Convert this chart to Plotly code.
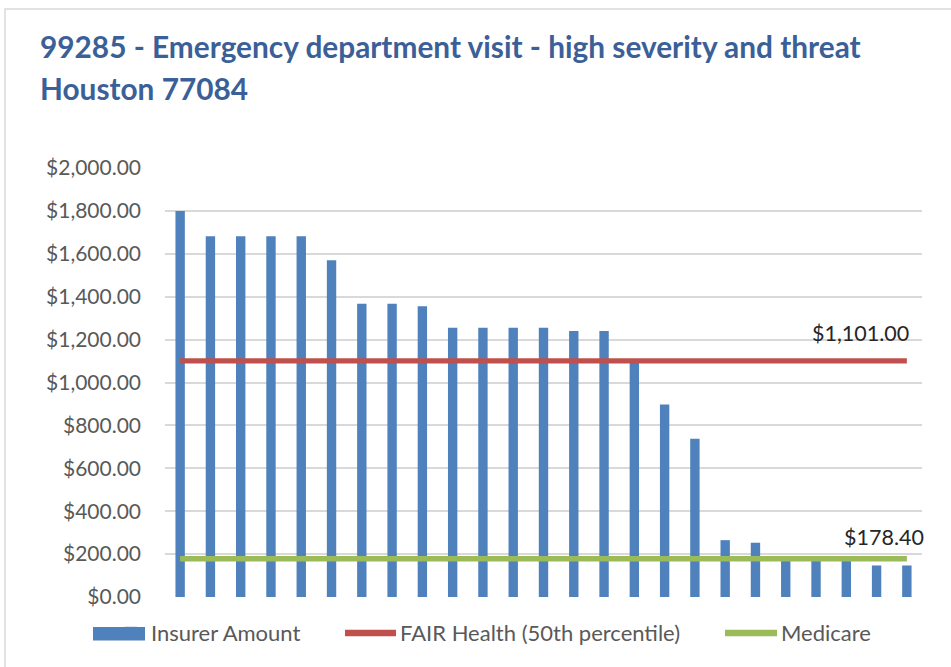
import plotly.graph_objects as go

categories = [str(i) for i in range(1, 26)]
insurer_amount = [1800, 1682, 1682, 1682, 1682, 1570, 1367, 1367, 1355, 1255,
                  1255, 1255, 1255, 1240, 1240, 1095, 898, 738, 265, 253,
                  172, 172, 172, 147, 147]
fair_health_value = 1101.00
medicare_value = 178.40
fair_health = [fair_health_value] * len(categories)
medicare = [medicare_value] * len(categories)
y_ticks = [0, 200, 400, 600, 800, 1000, 1200, 1400, 1600, 1800, 2000]

title_line1 = "99285 - Emergency department visit - high severity and threat"
title_line2 = "Houston 77084"

FONT = "Lato"
GREY = "#595959"
BLUE, RED, GREEN = "#4F81BD", "#C0504D", "#9BBB59"

# pixel geometry helpers (plot area 165..922 x, 168..597 y)
PL, PR, PT, PB = 165, 922, 168, 597
W, H = 951, 667


def px_x(p):
    return (p - PL) / (PR - PL)


def px_y(p):
    return (PB - p) / (PB - PT)


fig = go.Figure()
fig.add_trace(go.Bar(
    x=categories, y=insurer_amount, name="Insurer Amount",
    marker=dict(color=BLUE, line=dict(color=BLUE, width=0)),
    legend="legend",
))
fig.add_trace(go.Scatter(
    x=categories, y=fair_health, name="FAIR Health (50th percentile)",
    mode="lines", line=dict(color=RED, width=5.3),
    legend="legend2",
))
fig.add_trace(go.Scatter(
    x=categories, y=medicare, name="Medicare",
    mode="lines", line=dict(color=GREEN, width=5.3),
    legend="legend3",
))

LEG_Y = 633
legend_common = dict(orientation="h", yanchor="middle", xanchor="left",
                     font=dict(family=FONT, size=22, color=GREY),
                     bgcolor="rgba(0,0,0,0)", itemwidth=30)
fig.update_layout(
    width=W, height=H,
    margin=dict(l=PL, r=W - PR, t=PT, b=H - PB, autoexpand=False),
    paper_bgcolor="white", plot_bgcolor="white",
    bargap=0.69,
    showlegend=True,
    legend=dict(x=px_x(111), y=px_y(LEG_Y), **legend_common),
    legend2=dict(x=px_x(360), y=px_y(LEG_Y), **legend_common),
    legend3=dict(x=px_x(741), y=px_y(LEG_Y), **legend_common),
    xaxis=dict(type="category", range=[-0.5, len(categories) - 0.5],
               showticklabels=False, showgrid=False, zeroline=False,
               showline=False, ticks=""),
    yaxis=dict(range=[0, 2000], tickvals=y_ticks, tickformat="$,.2f",
               showgrid=True, gridcolor="#D9D9D9", gridwidth=1.5,
               zeroline=False, showline=False, ticks="",
               ticklabelstandoff=23,
               tickfont=dict(family=FONT, size=21, color=GREY)),
    font=dict(family=FONT),
)

last_idx = len(categories) - 1
fig.add_annotation(x=last_idx, y=fair_health_value, xref="x", yref="y",
                   text="$1,101.00", showarrow=False, xanchor="right",
                   yanchor="middle", xshift=4, yshift=28,
                   font=dict(family=FONT, size=21.5, color="#262626"))
fig.add_annotation(x=last_idx, y=medicare_value, xref="x", yref="y",
                   text="$178.40", showarrow=False, xanchor="right",
                   yanchor="middle", xshift=19, yshift=22,
                   font=dict(family=FONT, size=21.5, color="#262626"))

fig.add_annotation(x=px_x(38), y=px_y(47), xref="paper", yref="paper",
                   text="<b>" + title_line1 + "</b>", showarrow=False,
                   xanchor="left", yanchor="middle",
                   font=dict(family=FONT, size=29.8, color="#3B6098"))
fig.add_annotation(x=px_x(38), y=px_y(89), xref="paper", yref="paper",
                   text="<b>" + title_line2 + "</b>", showarrow=False,
                   xanchor="left", yanchor="middle",
                   font=dict(family=FONT, size=29.8, color="#3B6098"))

# chart border
fig.add_shape(type="rect", xref="paper", yref="paper",
              x0=px_x(5), x1=px_x(960), y0=px_y(680), y1=px_y(9),
              line=dict(color="#D9D9D9", width=1.5), fillcolor="rgba(0,0,0,0)",
              layer="below")
# wider legend keys (Excel style)
fig.add_shape(type="rect", xref="paper", yref="paper",
              x0=px_x(93), x1=px_x(145), y0=px_y(640.5), y1=px_y(627),
              line=dict(width=0), fillcolor=BLUE, layer="above")
fig.add_shape(type="line", xref="paper", yref="paper",
              x0=px_x(345), x1=px_x(396), y0=px_y(LEG_Y), y1=px_y(LEG_Y),
              line=dict(color=RED, width=6.5), layer="above")
fig.add_shape(type="line", xref="paper", yref="paper",
              x0=px_x(725), x1=px_x(777), y0=px_y(LEG_Y), y1=px_y(LEG_Y),
              line=dict(color=GREEN, width=6.5), layer="above")

fig.write_html("out.html",
               config={"displayModeBar": False},
               post_script="document.body.style.margin='0';"
                           "document.body.style.overflow='hidden';")
